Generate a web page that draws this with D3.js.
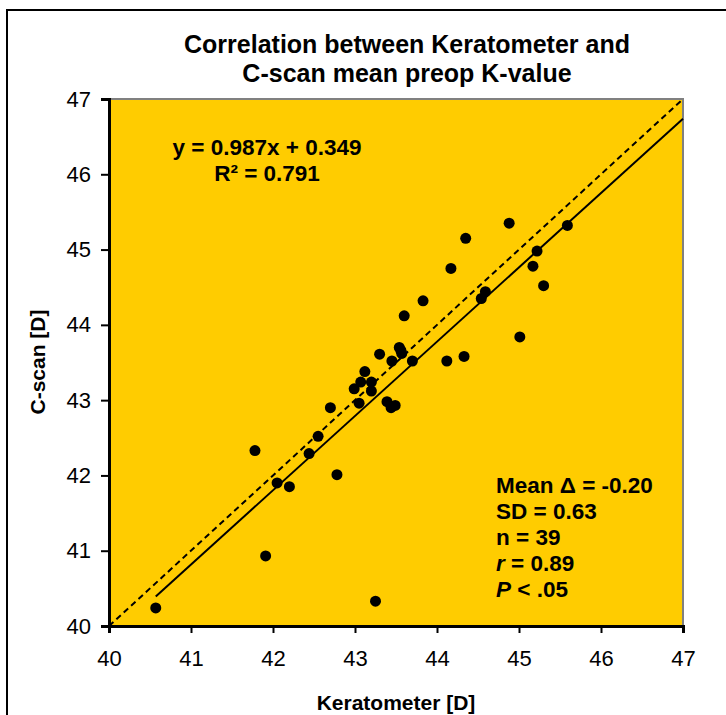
<!DOCTYPE html>
<html lang="en">
<head>
<meta charset="utf-8">
<title>Keratometer vs C-scan</title>
<script src="https://d3js.org/d3.v7.min.js"></script>
<style>
  body { margin: 0; background: #fff; }
  text { font-family: "Liberation Sans", Arial, sans-serif; fill: #000; }
  .tick text { font-size: 22px; }
  .bold { font-weight: bold; }
</style>
</head>
<body>
<div id="main"></div>
<script>
var width = 726, height = 715;

// data (Keratometer [D], C-scan [D])
var keratometer = [40.57, 41.91, 43.25, 41.78, 42.05, 42.20, 42.44, 42.55, 42.78, 42.70,
                   42.99, 43.07, 43.12, 43.20, 43.20, 43.05, 43.39, 43.44, 43.49, 43.45,
                   43.70, 43.30, 43.54, 43.57, 43.60, 43.83, 44.12, 44.33, 44.17, 44.35,
                   44.88, 44.54, 44.59, 45.01, 45.17, 45.22, 45.30, 45.59, 43.56];
var cscan = [40.24, 40.93, 40.33, 42.33, 41.90, 41.85, 42.29, 42.52, 42.01, 42.90,
             43.15, 43.24, 43.38, 43.24, 43.12, 42.96, 42.98, 42.90, 42.93, 43.52,
             43.52, 43.61, 43.70, 43.62, 44.12, 44.32, 43.52, 43.58, 44.75, 45.15,
             45.35, 44.35, 44.44, 43.84, 44.78, 44.98, 44.52, 45.32, 43.66];
var ticks = [40, 41, 42, 43, 44, 45, 46, 47];
var slope = 0.987, intercept = 0.349;
var titleLines = ["Correlation between Keratometer and", "C-scan mean preop  K-value"];
var eqLines = ["y = 0.987x + 0.349", "R\u00b2 = 0.791"];

var svg = d3.select("#main").append("svg")
    .attr("width", width)
    .attr("height", height);

// outer chart frame (runs off the right / bottom of the picture)
svg.append("rect")
    .attr("x", 7).attr("y", 10)
    .attr("width", 740).attr("height", 730)
    .attr("fill", "#fff")
    .attr("stroke", "#000")
    .attr("stroke-width", 2);

var x = d3.scaleLinear().domain([40, 47]).range([109, 683]);
var y = d3.scaleLinear().domain([40, 47]).range([626, 99]);

// plot area
svg.append("rect")
    .attr("x", x(40)).attr("y", y(47))
    .attr("width", x(47) - x(40)).attr("height", y(40) - y(47))
    .attr("fill", "#FFCC00");

svg.append("path")
    .attr("d", "M" + x(40) + "," + y(47) + "H" + x(47) + "V" + y(40))
    .attr("fill", "none")
    .attr("stroke", "#808080")
    .attr("stroke-width", 2);

// identity line
svg.append("line")
    .attr("x1", x(40)).attr("y1", y(40))
    .attr("x2", x(47)).attr("y2", y(47))
    .attr("stroke", "#000")
    .attr("stroke-width", 2)
    .attr("stroke-dasharray", "6,4");

// regression line
var xmin = d3.min(keratometer);
svg.append("line")
    .attr("x1", x(xmin)).attr("y1", y(slope * xmin + intercept))
    .attr("x2", x(47)).attr("y2", y(slope * 47 + intercept))
    .attr("stroke", "#000")
    .attr("stroke-width", 2);

// points
svg.append("g").selectAll("circle")
    .data(d3.range(keratometer.length))
    .enter().append("circle")
    .attr("cx", function(i) { return x(keratometer[i]); })
    .attr("cy", function(i) { return y(cscan[i]); })
    .attr("r", 5.5)
    .attr("fill", "#000");

// axes
var gx = svg.append("g")
    .attr("transform", "translate(0," + y(40) + ")")
    .call(d3.axisBottom(x).tickValues(ticks).tickSize(7).tickPadding(17).tickFormat(d3.format("d")));
var gy = svg.append("g")
    .attr("transform", "translate(" + x(40) + ",0)")
    .call(d3.axisLeft(y).tickValues(ticks).tickSize(8).tickPadding(10).tickFormat(d3.format("d")));
[gx, gy].forEach(function(g) {
    g.select(".domain").attr("stroke-width", 3);
    g.selectAll(".tick line").attr("stroke-width", 2);
});

// title
svg.append("g").selectAll("text")
    .data(titleLines)
    .enter().append("text")
    .attr("class", "bold")
    .attr("x", 407)
    .attr("y", function(d, i) { return 53 + i * 29; })
    .attr("text-anchor", "middle")
    .style("font-size", "25px")
    .text(function(d) { return d; });

// axis titles
svg.append("text")
    .attr("class", "bold")
    .attr("x", 396).attr("y", 710)
    .attr("text-anchor", "middle")
    .style("font-size", "21px")
    .text("Keratometer [D]");

svg.append("text")
    .attr("class", "bold")
    .attr("transform", "translate(45,362) rotate(-90)")
    .attr("text-anchor", "middle")
    .style("font-size", "21px")
    .text("C-scan [D]");

// trendline equation
svg.append("g").selectAll("text")
    .data(eqLines)
    .enter().append("text")
    .attr("class", "bold")
    .attr("x", 267)
    .attr("y", function(d, i) { return 155 + i * 26; })
    .attr("text-anchor", "middle")
    .style("font-size", "22.5px")
    .text(function(d) { return d; });

// stats box
var stats = svg.append("text")
    .attr("class", "bold")
    .style("font-size", "22.5px");
var lines = [
    [["Mean \u0394 = -0.20", false]],
    [["SD = 0.63", false]],
    [["n = 39", false]],
    [["r", true], [" = 0.89", false]],
    [["P", true], [" < .05", false]]
];
lines.forEach(function(parts, i) {
    parts.forEach(function(p, j) {
        var ts = stats.append("tspan").text(p[0])
            .style("font-style", p[1] ? "italic" : "normal");
        if (j === 0) ts.attr("x", 496).attr("y", 493 + i * 26);
    });
});
</script>
</body>
</html>
